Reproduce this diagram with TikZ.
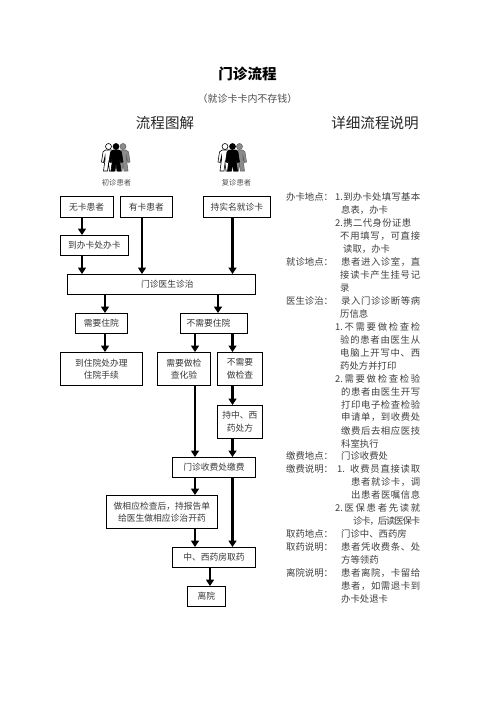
\documentclass[tikz,border=0pt]{standalone}
\usepackage{fontspec}
\setmainfont{Noto Sans CJK SC}
\usetikzlibrary{arrows.meta}
\makeatletter
\def\spreadarg{\@tfor\spreadch:=}
\newcommand\spreadline[2]{\hbox to #1bp{\expandafter\spreadarg#2\do{\spreadch\hss}\unskip}}
\makeatother
\tikzset{
  box/.style={draw=black,line width=0.9bp,anchor=north west,align=center,inner sep=0pt,text=black!78,font=\fontsize{8.8}{12.6}\selectfont},
  flow/.style={line width=2.6bp,-{Triangle[width=8bp,length=6.5bp]},draw=black},
  desc/.style={anchor=west,inner sep=0pt,text=black!75,font=\fontsize{9.4}{10}\selectfont},
  person/.pic={
    \path[pic actions] (0,-10.5) circle (3);
    \path[pic actions] (-3,-7) -- (3,-7) -- (5.5,-5) -- (7,5) -- (5,5.5) -- (3.5,-1) -- (3.5,3) -- (5,14) -- (1,14) -- (0,6) -- (-1,14) -- (-5,14) -- (-3.5,3) -- (-3.5,-1) -- (-5,5.5) -- (-7,5) -- (-5.5,-5) -- cycle;
  }
}
\begin{document}
\begin{tikzpicture}[x=1bp,y=-1bp]
\useasboundingbox (0,0) rectangle (496,702);
\fill[white] (0,0) rectangle (496,702);
% titles
\node[font=\fontsize{14.6}{16}\bfseries\selectfont] (title) at (247.5,74) {门诊流程};
\node[text=black!70,font=\fontsize{10}{12}\selectfont] (sub) at (247.5,99) {（就诊卡卡内不存钱）};
\node[text=black!85,font=\fontsize{14.6}{16}\selectfont] (h1) at (165,123) {流程图解};
\node[text=black!85,font=\fontsize{14.6}{16}\selectfont] (h2) at (375,123) {详细流程说明};
\node[text=black!70,font=\fontsize{7.3}{9}\selectfont] (p1) at (116.5,183) {初诊患者};
\node[text=black!70,font=\fontsize{7.3}{9}\selectfont] (p2) at (236.5,183) {复诊患者};
% figures
\foreach \cx in {0,116.5}{
  \pic[draw=black,fill=white,line width=.6bp] at (\cx+108.5,157) {person};
  \pic[draw=black!60,fill=black!45,line width=.6bp] at (\cx+123,157) {person};
  \pic[draw=black,fill=black,line width=.6bp] at (\cx+116,157) {person};
}
% boxes
\node[box,minimum width=52.5bp,minimum height=20.5bp] (wk) at (60,196) {无卡患者};
\node[box,minimum width=52bp,minimum height=20.5bp] (yk) at (120,196) {有卡患者};
\node[box,minimum width=67bp,minimum height=20.5bp] (cs) at (203,196) {持实名就诊卡};
\node[box,minimum width=68bp,minimum height=20bp] (bk) at (60,235) {到办卡处办卡};
\node[box,minimum width=188bp,minimum height=20bp] (mz) at (67,274) {\hspace*{12bp}门诊医生诊治};
\node[box,minimum width=52bp,minimum height=20bp] (zy) at (75,313) {需要住院};
\node[box,minimum width=67bp,minimum height=20bp] (bz) at (180,313) {\hspace*{-11bp}不需要住院};
\node[box,minimum width=82bp,minimum height=33bp] (bl) at (60,352) {到住院处办理\\住院手续};
\node[box,minimum width=53bp,minimum height=33bp] (jc) at (157,352) {需要做检\\查化验};
\node[box,minimum width=45bp,minimum height=33bp] (bj) at (217,352) {不需要\\做检查};
\node[box,minimum width=45bp,minimum height=32.5bp] (cf) at (217,405) {持中、西\\药处方};
\node[box,minimum width=83bp,minimum height=19.5bp] (sf) at (172,457) {门诊收费处缴费};
\node[box,minimum width=111bp,minimum height=33bp] (zx) at (106,495) {做相应检查后，持报告单\\给医生做相应诊治开药};
\node[box,minimum width=83bp,minimum height=20bp] (yf) at (172,547) {中、西药房取药};
\node[box,minimum width=38bp,minimum height=20bp] (ly) at (187,586) {离院};
% connector columns
\coordinate (a) at (82,0);
\coordinate (b) at (142,0);
\coordinate (c) at (232.5,0);
\coordinate (d) at (105,0);
\coordinate (e) at (218,0);
\coordinate (f) at (195,0);
\coordinate (g) at (210,0);
\draw[flow] (a |- wk.south) -- (a |- bk.north);
\draw[flow] (a |- bk.south) -- (a |- mz.north);
\draw[flow] (b |- yk.south) -- (b |- mz.north);
\draw[flow] (c |- cs.south) -- (c |- mz.north);
\draw[flow] (d |- mz.south) -- (d |- zy.north);
\draw[flow] (e |- mz.south) -- (e |- bz.north);
\draw[flow] (d |- zy.south) -- (d |- bl.north);
\draw[flow] (f |- bz.south) -- (f |- jc.north);
\draw[flow] (c |- bz.south) -- (c |- bj.north);
\draw[flow] (c |- bj.south) -- (c |- cf.north);
\draw[flow] (f |- jc.south) -- (f |- sf.north);
\draw[flow] (c |- cf.south) -- (c |- sf.north);
\draw[flow] (f |- sf.south) -- (f |- zx.north);
\draw[flow] (c |- sf.south) -- (c |- yf.north);
\draw[flow] (f |- zx.south) -- (f |- yf.north);
\draw[flow] (g |- yf.south) -- (g |- ly.north);
% right column headings
\foreach \n/\t in {0/办卡地点：,5/就诊地点：,8/医生诊治：,20/缴费地点：,21/缴费说明：,26/取药地点：,27/取药说明：,29/离院说明：}
  \node[desc] (k\n) at (286,197+12.97*\n) {\t};
% right column text lines: row / left x / width / text
\foreach \n/\x/\w/\t in {
 0/335/85/{{1.}到办卡处填写基本},
 2/335/76/{{2.}携二代身份证患},
 3/340/80/不用填写，可直接,
 5/341/79/患者进入诊室，直,
 6/340/80/接读卡产生挂号记,
 8/341/79/录入门诊诊断等病,
 10/335/85/{{1.}不需要做检查检},
 11/340/80/验的患者由医生从,
 12/340/80/电脑上开写中、西,
 14/335/85/{{2.}需要做检查检验},
 15/341/79/的患者由医生开写,
 16/341/79/打印电子检查检验,
 17/341/79/申请单，到收费处,
 18/341/79/缴费后去相应医技,
 21/350/70/收费员直接读取,
 22/351/69/患者就诊卡，调,
 23/351/69/出患者医嘱信息,
 24/335/85/{{2.}医保患者先读就},
 25/353/67/诊卡，后读医保卡,
 27/341/79/患者凭收费条、处,
 29/341/79/患者离院，卡留给,
 30/341/79/患者，如需退卡到}
  \node[desc] (s\n) at (\x,197+12.97*\n) {\spreadline{\w}{\t}};
\foreach \n/\x/\t in {
 1/341/息表，办卡,
 4/343/读取，办卡,
 7/340/录,
 9/340/历信息,
 13/340/药处方并打印,
 19/341/科室执行,
 20/341/门诊收费处,
 26/341/门诊中、西药房,
 28/341/方等领药,
 31/341/办卡处退卡}
  \node[desc] (f\n) at (\x,197+12.97*\n) {\t};
\node[desc] (num) at (337,197+12.97*21) {1.};
\end{tikzpicture}
\end{document}
